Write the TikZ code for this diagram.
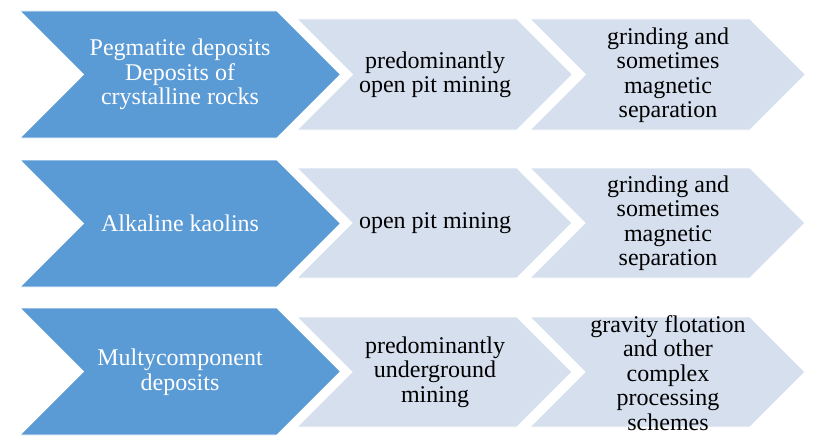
\documentclass[tikz,border=0pt]{standalone}
\usepackage{fontspec}
\setmainfont{Liberation Serif}

\definecolor{deepblue}{HTML}{5B9BD5}
\definecolor{paleblue}{HTML}{D5DFEE}

% one chevron: colour, left edge, right corner, top, bottom
\newcommand{\chevron}[5]{%
  \pgfmathsetmacro{\chhalf}{(#5-#4)/2}
  \pgfmathsetmacro{\chmid}{(#5+#4)/2}
  \filldraw[#1] (#2,#4) -- (#3,#4) -- (#3+\chhalf,\chmid) -- (#3,#5)
    -- (#2,#5) -- (#2+\chhalf,\chmid) -- cycle;}

\begin{document}
\begin{tikzpicture}
    [
    x=1pt,y=-1pt,
    kind/.style={fill=deepblue,draw=white,line width=0.8pt},
    stage/.style={fill=paleblue,draw=white,line width=0.8pt},
    kindtext/.style={text=white,align=center,font=\rmfamily\fontsize{24}{24.5}\selectfont},
    stagetext/.style={text=black,align=center,font=\rmfamily\fontsize{24}{24.5}\selectfont},
    ]
    \useasboundingbox (0,0) rectangle (814,436);

    % deposit kinds
    \chevron{kind}{20}{277}{11}{138}
    \chevron{kind}{20}{277}{160}{287}
    \chevron{kind}{20}{277}{308}{435}

    % mining and processing stages
    \foreach \top/\bot in {19/130,168/278,317/427} {
      \chevron{stage}{297}{517}{\top}{\bot}
      \chevron{stage}{530}{750}{\top}{\bot}
    }

    \node (k1) at (180,74.5) [kindtext] {Pegmatite deposits\\Deposits of\\crystalline rocks};
    \node (m1) at (435,75) [stagetext] {predominantly\\open pit mining};
    \node (p1) at (668,75) [stagetext] {grinding and\\sometimes\\magnetic\\separation};

    \node (k2) at (180,223.5) [kindtext] {Alkaline kaolins};
    \node (m2) at (435,223) [stagetext] {open pit mining};
    \node (p2) at (668,223) [stagetext] {grinding and\\sometimes\\magnetic\\separation};

    \node (k3) at (180,372) [kindtext] {Multycomponent\\deposits};
    \node (m3) at (435,372) [stagetext] {predominantly\\underground\\mining};
    \node (p3) at (668,373) [stagetext] {gravity flotation\\and other\\complex\\processing\\schemes};
\end{tikzpicture}
\end{document}
